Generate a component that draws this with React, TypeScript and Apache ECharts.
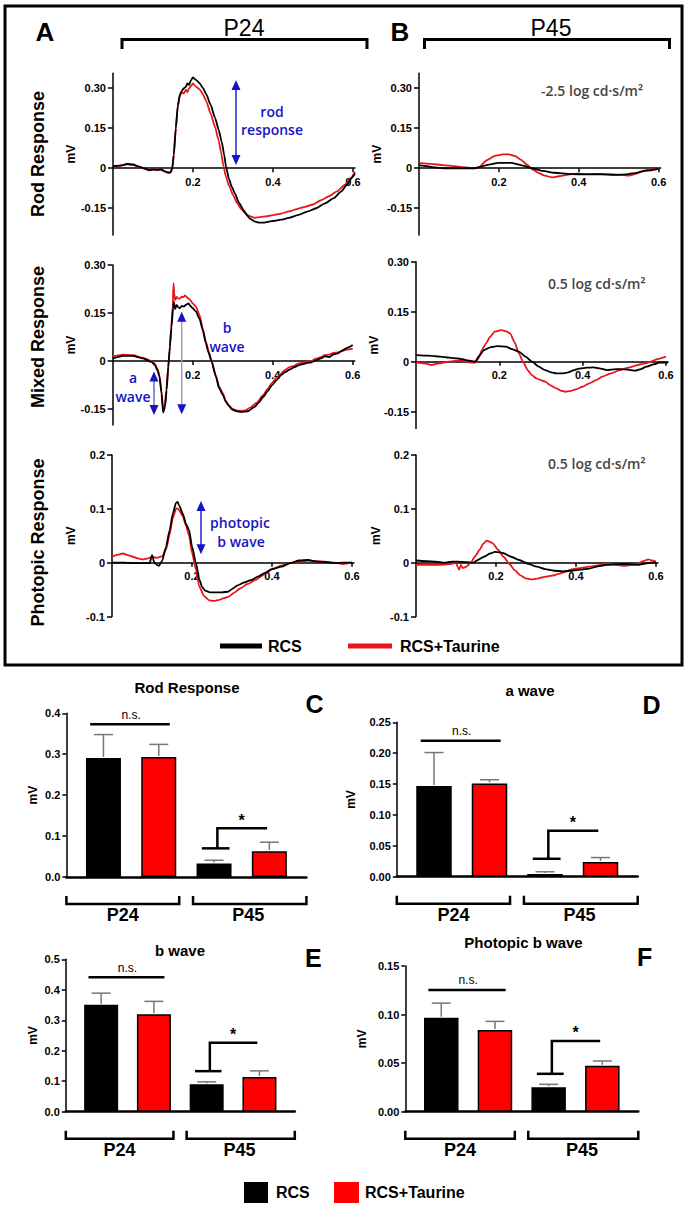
import React, { useEffect, useRef } from "react";
import * as echarts from "echarts";

// ---------------- ERG traces (time s, amplitude mV) ----------------
const rodP24RCS: number[][] = [[0,0.008],[0.02,0.01],[0.035,0.016],[0.05,0.014],[0.065,0.006],[0.08,-0.001],[0.09,-0.008],[0.1,-0.005],[0.11,-0.006],[0.12,-0.004],[0.13,-0.012],[0.138,-0.017],[0.144,-0.016],[0.148,-0.002],[0.152,0.05],[0.157,0.15],[0.162,0.235],[0.167,0.275],[0.172,0.29],[0.177,0.3],[0.182,0.305],[0.186,0.318],[0.19,0.312],[0.195,0.33],[0.2,0.341],[0.205,0.334],[0.21,0.328],[0.217,0.318],[0.225,0.3],[0.233,0.278],[0.244,0.238],[0.255,0.19],[0.264,0.145],[0.272,0.098],[0.278,0.05],[0.283,0.002],[0.29,-0.04],[0.297,-0.07],[0.305,-0.095],[0.315,-0.13],[0.327,-0.158],[0.335,-0.177],[0.343,-0.19],[0.355,-0.2],[0.365,-0.204],[0.376,-0.204],[0.39,-0.2],[0.405,-0.197],[0.42,-0.193],[0.44,-0.186],[0.464,-0.175],[0.485,-0.163],[0.508,-0.15],[0.53,-0.132],[0.552,-0.112],[0.57,-0.088],[0.585,-0.062],[0.597,-0.036],[0.605,-0.02]];
const rodP24Tau: number[][] = [[0,0.008],[0.02,0.011],[0.035,0.015],[0.05,0.013],[0.065,0.005],[0.08,-0.002],[0.09,-0.007],[0.1,-0.004],[0.11,-0.007],[0.12,-0.006],[0.13,-0.013],[0.138,-0.016],[0.144,-0.014],[0.148,0],[0.152,0.05],[0.157,0.15],[0.162,0.23],[0.167,0.27],[0.172,0.285],[0.177,0.28],[0.182,0.295],[0.186,0.285],[0.19,0.3],[0.195,0.308],[0.2,0.318],[0.205,0.31],[0.21,0.303],[0.217,0.295],[0.225,0.277],[0.233,0.252],[0.244,0.205],[0.255,0.155],[0.264,0.105],[0.27,0.06],[0.276,0.01],[0.282,-0.03],[0.29,-0.065],[0.3,-0.1],[0.31,-0.13],[0.32,-0.152],[0.33,-0.168],[0.342,-0.18],[0.355,-0.186],[0.368,-0.183],[0.385,-0.18],[0.4,-0.176],[0.42,-0.17],[0.44,-0.162],[0.46,-0.153],[0.48,-0.145],[0.5,-0.136],[0.52,-0.12],[0.54,-0.105],[0.56,-0.087],[0.58,-0.062],[0.595,-0.035],[0.605,-0.013]];
const rodP45RCS: number[][] = [[0,0.012],[0.02,0.008],[0.04,0.003],[0.06,0],[0.1,0],[0.14,0],[0.17,0.012],[0.2,0.02],[0.23,0.02],[0.26,0.01],[0.283,0],[0.31,-0.01],[0.339,-0.017],[0.38,-0.022],[0.42,-0.023],[0.46,-0.022],[0.495,-0.025],[0.52,-0.023],[0.54,-0.018],[0.57,-0.009],[0.6,-0.002]];
const rodP45Tau: number[][] = [[0,0.02],[0.03,0.016],[0.06,0.012],[0.09,0.008],[0.11,0.004],[0.135,0],[0.15,0.004],[0.17,0.03],[0.19,0.046],[0.21,0.052],[0.225,0.052],[0.24,0.046],[0.255,0.032],[0.27,0.014],[0.285,-0.005],[0.3,-0.018],[0.315,-0.028],[0.333,-0.034],[0.35,-0.03],[0.37,-0.025],[0.394,-0.02],[0.42,-0.022],[0.44,-0.022],[0.47,-0.024],[0.5,-0.024],[0.526,-0.028],[0.545,-0.02],[0.56,-0.01],[0.58,-0.004],[0.6,-0.002]];
const mixP24RCS: number[][] = [[0,0.008],[0.027,0.016],[0.05,0.016],[0.076,0.008],[0.097,-0.003],[0.105,-0.012],[0.112,-0.03],[0.117,-0.049],[0.122,-0.101],[0.126,-0.161],[0.131,-0.142],[0.135,-0.09],[0.139,-0.018],[0.143,0.045],[0.147,0.107],[0.151,0.165],[0.153,0.185],[0.156,0.162],[0.16,0.175],[0.164,0.168],[0.168,0.165],[0.173,0.172],[0.177,0.17],[0.185,0.177],[0.19,0.18],[0.194,0.172],[0.2,0.165],[0.208,0.155],[0.217,0.132],[0.225,0.097],[0.233,0.055],[0.24,0.025],[0.246,0.003],[0.258,-0.049],[0.266,-0.085],[0.275,-0.105],[0.283,-0.128],[0.29,-0.14],[0.299,-0.152],[0.31,-0.157],[0.321,-0.159],[0.338,-0.157],[0.354,-0.144],[0.365,-0.13],[0.376,-0.1125],[0.387,-0.095],[0.398,-0.076],[0.41,-0.06],[0.42,-0.045],[0.431,-0.035],[0.442,-0.027],[0.453,-0.02],[0.464,-0.0135],[0.475,-0.01],[0.486,-0.006],[0.497,-0.004],[0.508,0.002],[0.52,0.008],[0.53,0.0146],[0.541,0.012],[0.552,0.021],[0.563,0.024],[0.574,0.033],[0.585,0.04],[0.595,0.046],[0.6,0.05]];
const mixP24Tau: number[][] = [[0,0.014],[0.027,0.02],[0.05,0.018],[0.076,0.01],[0.097,0],[0.105,-0.008],[0.112,-0.025],[0.117,-0.045],[0.122,-0.095],[0.126,-0.147],[0.13,-0.14],[0.134,-0.09],[0.138,-0.03],[0.142,0.03],[0.146,0.1],[0.15,0.17],[0.152,0.243],[0.154,0.21],[0.156,0.19],[0.16,0.2],[0.164,0.195],[0.168,0.195],[0.172,0.2],[0.177,0.2],[0.181,0.205],[0.185,0.2],[0.19,0.195],[0.194,0.19],[0.2,0.18],[0.208,0.17],[0.217,0.144],[0.225,0.102],[0.233,0.06],[0.24,0.03],[0.246,0.006],[0.258,-0.045],[0.266,-0.08],[0.275,-0.1],[0.283,-0.125],[0.29,-0.138],[0.3,-0.15],[0.31,-0.155],[0.32,-0.156],[0.332,-0.154],[0.345,-0.145],[0.36,-0.13],[0.376,-0.107],[0.387,-0.088],[0.398,-0.069],[0.41,-0.052],[0.42,-0.04],[0.431,-0.028],[0.442,-0.019],[0.453,-0.015],[0.464,-0.008],[0.475,-0.006],[0.486,-0.001],[0.497,0],[0.508,0.007],[0.52,0.012],[0.53,0.018],[0.541,0.02],[0.552,0.025],[0.563,0.027],[0.574,0.031],[0.585,0.036],[0.6,0.039]];
const mixP45RCS: number[][] = [[0,0.02],[0.03,0.018],[0.058,0.015],[0.08,0.012],[0.1,0.01],[0.12,0.005],[0.142,0],[0.152,0.018],[0.163,0.035],[0.18,0.044],[0.195,0.047],[0.216,0.045],[0.23,0.038],[0.247,0.03],[0.263,0.015],[0.279,0],[0.295,-0.015],[0.31,-0.025],[0.325,-0.032],[0.337,-0.035],[0.35,-0.035],[0.363,-0.033],[0.38,-0.025],[0.395,-0.02],[0.41,-0.018],[0.426,-0.017],[0.44,-0.02],[0.458,-0.025],[0.48,-0.022],[0.5,-0.023],[0.515,-0.025],[0.526,-0.027],[0.54,-0.022],[0.553,-0.015],[0.57,-0.008],[0.584,-0.003],[0.605,-0.003]];
const mixP45Tau: number[][] = [[0,-0.003],[0.02,-0.005],[0.037,-0.01],[0.055,-0.005],[0.07,-0.002],[0.09,0.002],[0.105,0.005],[0.115,0.002],[0.125,-0.002],[0.142,-0.003],[0.15,0.01],[0.158,0.035],[0.168,0.055],[0.178,0.075],[0.189,0.09],[0.205,0.095],[0.215,0.092],[0.226,0.085],[0.236,0.06],[0.247,0.025],[0.257,0],[0.268,-0.025],[0.278,-0.04],[0.289,-0.05],[0.3,-0.055],[0.31,-0.06],[0.322,-0.07],[0.337,-0.08],[0.348,-0.087],[0.358,-0.09],[0.37,-0.088],[0.384,-0.083],[0.4,-0.075],[0.416,-0.065],[0.432,-0.055],[0.447,-0.045],[0.468,-0.035],[0.489,-0.025],[0.51,-0.018],[0.532,-0.01],[0.55,-0.005],[0.563,0],[0.58,0.008],[0.6,0.015]];
const phoP24RCS: number[][] = [[0,0],[0.03,0],[0.06,-0.001],[0.083,-0.001],[0.094,-0.001],[0.1,0.014],[0.106,0],[0.112,-0.004],[0.117,-0.006],[0.125,0.003],[0.135,0.029],[0.144,0.06],[0.152,0.091],[0.16,0.111],[0.164,0.113],[0.168,0.106],[0.177,0.091],[0.185,0.072],[0.193,0.06],[0.2,0.03],[0.21,-0.001],[0.218,-0.03],[0.225,-0.045],[0.233,-0.052],[0.245,-0.055],[0.26,-0.055],[0.275,-0.055],[0.29,-0.054],[0.3,-0.049],[0.314,-0.042],[0.33,-0.037],[0.347,-0.0325],[0.365,-0.026],[0.38,-0.02],[0.4,-0.012],[0.424,-0.0075],[0.445,-0.001],[0.468,0.004],[0.49,0.005],[0.513,0.002],[0.535,0.001],[0.556,-0.001],[0.58,0],[0.6,0]];
const phoP24Tau: number[][] = [[0,0.011],[0.015,0.015],[0.027,0.017],[0.04,0.014],[0.052,0.011],[0.065,0.008],[0.077,0.006],[0.09,0.008],[0.101,0.011],[0.112,0.009],[0.126,0.012],[0.135,0.024],[0.144,0.052],[0.152,0.083],[0.16,0.1],[0.164,0.101],[0.168,0.097],[0.177,0.086],[0.185,0.069],[0.193,0.049],[0.2,0.018],[0.21,-0.013],[0.218,-0.044],[0.23,-0.062],[0.243,-0.07],[0.255,-0.071],[0.268,-0.069],[0.28,-0.066],[0.292,-0.063],[0.305,-0.056],[0.32,-0.048],[0.338,-0.04],[0.358,-0.0325],[0.38,-0.022],[0.402,-0.011],[0.425,-0.005],[0.446,-0.001],[0.468,0.002],[0.49,0.004],[0.512,0.003],[0.534,0.002],[0.556,0],[0.578,-0.0025],[0.6,0]];
const phoP45RCS: number[][] = [[0,0.004],[0.025,0.003],[0.05,0.002],[0.071,0],[0.09,0.002],[0.104,0.002],[0.126,0.001],[0.143,0],[0.155,0.005],[0.17,0.011],[0.185,0.017],[0.197,0.02],[0.21,0.019],[0.219,0.0175],[0.238,0.011],[0.258,0.005],[0.28,-0.002],[0.302,-0.0075],[0.323,-0.012],[0.345,-0.015],[0.367,-0.016],[0.389,-0.015],[0.41,-0.013],[0.433,-0.011],[0.455,-0.007],[0.477,-0.004],[0.5,-0.003],[0.521,-0.0025],[0.538,-0.003],[0.554,-0.004],[0.57,-0.002],[0.587,0],[0.6,0]];
const phoP45Tau: number[][] = [[0,-0.004],[0.03,-0.004],[0.06,-0.004],[0.09,-0.002],[0.1,0],[0.104,-0.008],[0.108,-0.013],[0.112,-0.004],[0.117,-0.01],[0.126,-0.0075],[0.137,0],[0.148,0.012],[0.159,0.024],[0.168,0.035],[0.176,0.041],[0.184,0.039],[0.192,0.036],[0.205,0.024],[0.219,0.011],[0.233,-0.002],[0.247,-0.014],[0.26,-0.023],[0.274,-0.029],[0.29,-0.031],[0.307,-0.029],[0.324,-0.026],[0.34,-0.024],[0.357,-0.021],[0.373,-0.017],[0.389,-0.0125],[0.41,-0.01],[0.433,-0.0075],[0.455,-0.005],[0.477,-0.0025],[0.5,-0.004],[0.521,-0.006],[0.54,-0.004],[0.554,-0.002],[0.568,0.003],[0.581,0.006],[0.59,0.004],[0.6,0.002]];

const traceXTicks = [0.2, 0.4, 0.6];
const scotopicYTicks = [-0.15, 0, 0.15, 0.3];
const photopicYTicks = [-0.1, 0, 0.1, 0.2];

// ---------------- Bar panels (mean, SEM in mV) ----------------
const groups = ["P24", "P45"];
const rodRCS = [0.291, 0.033];
const rodRCSsem = [0.057, 0.008];
const rodTau = [0.293, 0.063];
const rodTauSem = [0.031, 0.022];
const aRCS = [0.147, 0.0045];
const aRCSsem = [0.054, 0.0035];
const aTau = [0.151, 0.024];
const aTauSem = [0.006, 0.007];
const bRCS = [0.351, 0.09];
const bRCSsem = [0.038, 0.008];
const bTau = [0.32, 0.114];
const bTauSem = [0.042, 0.02];
const phRCS = [0.0968, 0.0252];
const phRCSsem = [0.015, 0.003];
const phTau = [0.084, 0.0472];
const phTauSem = [0.009, 0.005];

const panelTitles = ["Rod Response", "a wave", "b wave", "Photopic b wave"];
const panelLetters = ["C", "D", "E", "F"];
const nsLevel = [0.373, 0.22, 0.441, 0.1253];
const sigStub = [0.07, 0.029, 0.133, 0.039];
const sigTop = [0.119, 0.0745, 0.226, 0.0728];

// ---------------- styles ----------------
const RED_LINE = "#e8161c";
const RED_BAR = "#ff0000";
const BLUE = "#1414c4";
const SANS = "'Liberation Sans', Arial, sans-serif";
const CAL = "'Open Sans', 'Noto Sans', sans-serif";

const traceLayout = [
  { left: 113, top: 73.3, width: 242, height: 161.6, ymin: -0.25, ymax: 0.356, yt: scotopicYTicks, dec: 2, gap: 35 },
  { left: 419, top: 73.3, width: 241.6, height: 161.6, ymin: -0.25, ymax: 0.356, yt: scotopicYTicks, dec: 2, gap: 34 },
  { left: 112.7, top: 265, width: 242, height: 160, ymin: -0.2, ymax: 0.3, yt: scotopicYTicks, dec: 2, gap: 35 },
  { left: 416, top: 261.7, width: 252, height: 166.7, ymin: -0.2, ymax: 0.3, yt: scotopicYTicks, dec: 2, gap: 34 },
  { left: 112, top: 455, width: 242, height: 161.5, ymin: -0.1, ymax: 0.2, yt: photopicYTicks, dec: 1, gap: 35 },
  { left: 416, top: 455, width: 242, height: 161.5, ymin: -0.1, ymax: 0.2, yt: photopicYTicks, dec: 1, gap: 34 },
];
const traceData = [
  [rodP24Tau, rodP24RCS], [rodP45Tau, rodP45RCS],
  [mixP24Tau, mixP24RCS], [mixP45Tau, mixP45RCS],
  [phoP24Tau, phoP24RCS], [phoP45Tau, phoP45RCS],
];

const BX_MIN = 0.33, BX_MAX = 4.67;
const barLayout = [
  { left: 66.4, top: 713.3, width: 240, height: 163.7, ymax: 0.4, interval: 0.1, dec: 1, gap: 27, bw: 35 },
  { left: 396.8, top: 722.3, width: 240.9, height: 154.4, ymax: 0.25, interval: 0.05, dec: 2, gap: 40, bw: 35.5 },
  { left: 65.8, top: 959.3, width: 229, height: 152.4, ymax: 0.5, interval: 0.1, dec: 1, gap: 27, bw: 34 },
  { left: 405.3, top: 966, width: 233, height: 145.7, ymax: 0.15, interval: 0.05, dec: 2, gap: 37, bw: 34.5 },
];
const barData = [
  [rodRCS, rodRCSsem, rodTau, rodTauSem],
  [aRCS, aRCSsem, aTau, aTauSem],
  [bRCS, bRCSsem, bTau, bTauSem],
  [phRCS, phRCSsem, phTau, phTauSem],
];
const panelTitlePos = [[187, 687.5], [530, 690], [180, 950], [523.5, 942.5]];
const panelLetterPos = [[314.6, 704], [651.5, 705], [313.4, 957.5], [644.6, 957]];

function txt(x: number, y: number, text: string, o: any = {}) {
  const align = o.align || "center";
  return {
    type: "text", x, y, z: 100, rotation: o.rotation || 0,
    style: {
      text, fill: o.fill || "#000", fontSize: o.size || 12, fontWeight: o.weight || "normal",
      fontFamily: o.family || SANS, align, textAlign: align, verticalAlign: "middle", textVerticalAlign: "middle",
    },
  };
}
function seg(x1: number, y1: number, x2: number, y2: number, stroke = "#000", lw = 2.5) {
  return { type: "line", z: 100, shape: { x1, y1, x2, y2 }, style: { stroke, lineWidth: lw } };
}
function poly(points: number[][], lw = 2.5) {
  return { type: "polyline", z: 100, shape: { points }, style: { stroke: "#000", lineWidth: lw, fill: null } };
}
function dblArrow(x: number, y1: number, y2: number, lineColor: string) {
  return [
    seg(x, y1 + 6, x, y2 - 6, lineColor, 1.4),
    { type: "polygon", z: 101, shape: { points: [[x, y1], [x - 4.5, y1 + 10], [x + 4.5, y1 + 10]] }, style: { fill: BLUE } },
    { type: "polygon", z: 101, shape: { points: [[x, y2], [x - 4.5, y2 - 10], [x + 4.5, y2 - 10]] }, style: { fill: BLUE } },
  ];
}

function buildOption() {
  const grid: any[] = [], xAxis: any[] = [], yAxis: any[] = [], series: any[] = [];
  const axisLabelBase = { color: "#000", fontSize: 11, fontWeight: "bold", fontFamily: SANS };
  const nameStyle = { color: "#000", fontSize: 12, fontWeight: "bold", fontFamily: SANS };

  traceLayout.forEach((L, i) => {
    grid.push({ left: L.left, top: L.top, width: L.width, height: L.height, containLabel: false, outerBoundsMode: "none" });
    // place the time axis on the zero line (axis offset upward from the grid bottom)
    const zeroOffset = -L.height * (0 - L.ymin) / (L.ymax - L.ymin);
    xAxis.push({
      gridIndex: i, type: "value", min: 0, max: 0.605, position: "bottom", offset: zeroOffset,
      axisLine: { show: true, onZero: false, lineStyle: { color: "#000", width: 1.5 } },
      axisTick: { show: true, length: 4, customValues: traceXTicks, lineStyle: { color: "#000", width: 1.5 } },
      axisLabel: { ...axisLabelBase, margin: 8, customValues: traceXTicks, formatter: (v: number) => v.toFixed(1) },
      splitLine: { show: false },
    });
    yAxis.push({
      gridIndex: i, type: "value", min: L.ymin, max: L.ymax,
      axisLine: { show: true, onZero: false, lineStyle: { color: "#000", width: 1.5 } },
      axisTick: { show: true, length: 5, customValues: L.yt, lineStyle: { color: "#000", width: 1.5 } },
      axisLabel: { ...axisLabelBase, margin: 7, customValues: L.yt, formatter: (v: number) => (Math.abs(v) < 1e-9 ? "0" : v.toFixed(L.dec)) },
      splitLine: { show: false },
      name: "mV", nameLocation: "middle", nameGap: L.gap, nameTextStyle: nameStyle,
    });
    const [tau, rcs] = traceData[i];
    [[tau, RED_LINE], [rcs, "#000"]].forEach(([d, c]: any) => {
      series.push({
        type: "line", xAxisIndex: i, yAxisIndex: i, data: d, showSymbol: false, symbol: "none",
        smooth: 0.2, smoothMonotone: "x", lineStyle: { color: c, width: 1.8 }, silent: true,
      });
    });
  });

  barLayout.forEach((L, k) => {
    const gi = traceLayout.length + k;
    grid.push({ left: L.left, top: L.top, width: L.width, height: L.height, containLabel: false, outerBoundsMode: "none" });
    xAxis.push({
      gridIndex: gi, type: "value", min: BX_MIN, max: BX_MAX,
      axisLine: { show: true, onZero: false, lineStyle: { color: "#000", width: 2.5 } },
      axisTick: { show: false }, axisLabel: { show: false }, splitLine: { show: false },
    });
    yAxis.push({
      gridIndex: gi, type: "value", min: 0, max: L.ymax, interval: L.interval,
      axisLine: { show: true, lineStyle: { color: "#000", width: 1.5 } },
      axisTick: { show: true, length: 4, lineStyle: { color: "#000", width: 1.5 } },
      axisLabel: { ...axisLabelBase, margin: 6, formatter: (v: number) => v.toFixed(L.dec) },
      splitLine: { show: false },
      name: "mV", nameLocation: "middle", nameGap: L.gap, nameTextStyle: nameStyle,
    });
    const [rcs, rcsSem, tau, tauSem] = barData[k];
    const bars: any[] = [], errs: any[] = [];
    groups.forEach((_, g) => {
      bars.push({ value: [1 + 2 * g, rcs[g]], itemStyle: { color: "#000", borderColor: "#000", borderWidth: 1.5 } });
      bars.push({ value: [2 + 2 * g, tau[g]], itemStyle: { color: RED_BAR, borderColor: "#000", borderWidth: 1.5 } });
      errs.push([1 + 2 * g, rcs[g], rcsSem[g]]);
      errs.push([2 + 2 * g, tau[g], tauSem[g]]);
    });
    series.push({ type: "bar", xAxisIndex: gi, yAxisIndex: gi, data: bars, barWidth: L.bw, silent: true, z: 2 });
    series.push({
      type: "custom", xAxisIndex: gi, yAxisIndex: gi, data: errs, silent: true, z: 3,
      renderItem: (_p: any, api: any) => {
        const x = api.value(0), y = api.value(1), e = api.value(2);
        const p0 = api.coord([x, y]);
        const p1 = api.coord([x, y + e]);
        const st = { stroke: "#777", lineWidth: 1.5 };
        return {
          type: "group", children: [
            { type: "line", shape: { x1: p0[0], y1: p0[1] - 1, x2: p1[0], y2: p1[1] }, style: st },
            { type: "line", shape: { x1: p1[0] - 9.5, y1: p1[1], x2: p1[0] + 9.5, y2: p1[1] }, style: st },
          ],
        };
      },
    });
  });

  // -------- graphics --------
  const G: any[] = [];
  G.push({ type: "rect", z: 100, shape: { x: 5, y: 6, width: 677, height: 659 }, style: { fill: "none", stroke: "#000", lineWidth: 3 } });
  G.push(txt(45, 32, "A", { size: 26, weight: "bold" }));
  G.push(txt(400, 32, "B", { size: 26, weight: "bold" }));
  G.push(txt(244, 28, "P24", { size: 23 }));
  G.push(txt(551, 28, "P45", { size: 23 }));
  G.push(poly([[122, 49], [122, 39.5], [367, 39.5], [367, 49]], 3));
  G.push(poly([[424.5, 49], [424.5, 39.5], [669.5, 39.5], [669.5, 49]], 3));
  G.push(txt(38, 154, "Rod Response", { size: 18, weight: "bold", rotation: Math.PI / 2 }));
  G.push(txt(38, 337, "Mixed Response", { size: 18, weight: "bold", rotation: Math.PI / 2 }));
  G.push(txt(38, 542.5, "Photopic Response", { size: 18, weight: "bold", rotation: Math.PI / 2 }));

  // stimulus intensities
  G.push(txt(541, 90, "-2.5 log cd·s/m²", { size: 14, weight: 600, family: CAL, fill: "#444", align: "left" }));
  G.push(txt(548, 283, "0.5 log cd·s/m²", { size: 14, weight: 600, family: CAL, fill: "#444", align: "left" }));
  G.push(txt(548, 463, "0.5 log cd·s/m²", { size: 14, weight: 600, family: CAL, fill: "#444", align: "left" }));

  // blue annotations
  const bt = { size: 14, weight: 600, family: CAL, fill: BLUE };
  G.push(...dblArrow(236, 80, 165, BLUE));
  G.push(txt(272, 111, "rod", bt), txt(272, 129, "response", bt));
  G.push(...dblArrow(154, 371.5, 415, "#6464b0"));
  G.push(...dblArrow(181.7, 311.7, 414.3, "#9a9ac8"));
  G.push(txt(133, 377, "a", bt), txt(133, 396, "wave", bt));
  G.push(txt(227, 327, "b", bt), txt(227, 346, "wave", bt));
  G.push(...dblArrow(201, 501, 554.3, BLUE));
  G.push(txt(240, 522, "photopic", bt), txt(241, 541, "b wave", bt));

  // top legend
  G.push(seg(220, 646, 262, 646, "#000", 5));
  G.push(txt(268, 646, "RCS", { size: 16, weight: "bold", align: "left" }));
  G.push(seg(348, 646, 392, 646, RED_LINE, 5));
  G.push(txt(400, 646, "RCS+Taurine", { size: 16, weight: "bold", align: "left" }));

  // bar panel annotations
  barLayout.forEach((L, k) => {
    const px = (x: number) => L.left + ((x - BX_MIN) / (BX_MAX - BX_MIN)) * L.width;
    const py = (y: number) => L.top + L.height - (y / L.ymax) * L.height;
    const y0 = py(0);
    G.push(txt(panelTitlePos[k][0], panelTitlePos[k][1], panelTitles[k], { size: 15, weight: "bold" }));
    G.push(txt(panelLetterPos[k][0], panelLetterPos[k][1], panelLetters[k], { size: 25, weight: "bold" }));
    // n.s.
    G.push(seg(px(0.76), py(nsLevel[k]), px(2.2), py(nsLevel[k]), "#000", 2.5));
    G.push(txt(px(1.5), py(nsLevel[k]) - 9.5, "n.s.", { size: 12 }));
    // significance bracket
    G.push(seg(px(2.78), py(sigStub[k]), px(3.28), py(sigStub[k]), "#000", 2.5));
    G.push(poly([[px(3.06), py(sigStub[k])], [px(3.06), py(sigTop[k])], [px(3.96), py(sigTop[k])]], 2.5));
    G.push(txt(px(3.5), py(sigTop[k]) - 8, "*", { size: 16, weight: "bold" }));
    // group brackets
    const by = y0 + 27;
    G.push(poly([[px(0.33), by - 8], [px(0.33), by], [px(2.37), by], [px(2.37), by - 8]], 2.5));
    G.push(poly([[px(2.62), by - 8], [px(2.62), by], [px(4.67), by], [px(4.67), by - 8]], 2.5));
    G.push(txt(px(1.35), y0 + 38, groups[0], { size: 18, weight: "bold" }));
    G.push(txt(px(3.62), y0 + 38, groups[1], { size: 18, weight: "bold" }));
  });

  // bottom legend
  G.push({ type: "rect", z: 100, shape: { x: 244, y: 1182, width: 24, height: 21 }, style: { fill: "#000" } });
  G.push(txt(276, 1192.5, "RCS", { size: 16, weight: "bold", align: "left" }));
  G.push({ type: "rect", z: 100, shape: { x: 334, y: 1182, width: 25, height: 21 }, style: { fill: RED_BAR } });
  G.push(txt(365, 1192.5, "RCS+Taurine", { size: 16, weight: "bold", align: "left" }));

  return { animation: false, backgroundColor: "#fff", grid, xAxis, yAxis, series, graphic: { elements: G } };
}

export default function App() {
  const ref = useRef<HTMLDivElement>(null);
  useEffect(() => {
    document.body.style.margin = "0";
    const chart = echarts.init(ref.current!, null, { renderer: "svg", width: 688, height: 1207 });
    chart.setOption(buildOption() as any);
    return () => chart.dispose();
  }, []);
  return <div ref={ref} style={{ width: 688, height: 1207 }} />;
}
